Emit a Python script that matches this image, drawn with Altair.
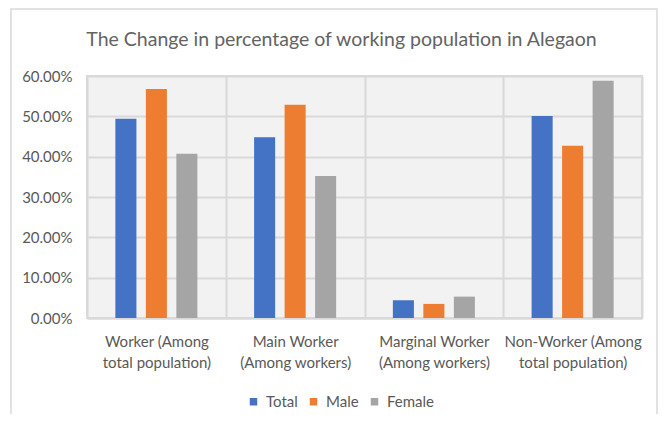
import altair as alt
import pandas as pd

categories = [
    "Worker (Among|total population)",
    "Main Worker|(Among workers)",
    "Marginal Worker|(Among workers)",
    "Non-Worker (Among|total population)",
]
series = ["Total", "Male", "Female"]
total_vals = [0.494, 0.448, 0.044, 0.501]
male_vals = [0.568, 0.529, 0.035, 0.427]
female_vals = [0.407, 0.352, 0.053, 0.588]
colors = ["#4472C4", "#ED7D31", "#A5A5A5"]
y_ticks = [0.0, 0.1, 0.2, 0.3, 0.4, 0.5, 0.6]

rows = []
for s, vals in zip(series, [total_vals, male_vals, female_vals]):
    for c, v in zip(categories, vals):
        rows.append({"category": c, "series": s, "value": v})
df = pd.DataFrame(rows)

FONT = "Lato"
TXT = "#595959"
GRID = "#d9d9d9"

bars = alt.Chart(df).mark_bar().encode(
    x=alt.X(
        "category:N",
        sort=categories,
        scale=alt.Scale(paddingInner=0, paddingOuter=0),
        axis=alt.Axis(
            title=None,
            labelAngle=0,
            labelExpr="split(datum.label, '|')",
            labelFont=FONT,
            labelFontSize=15,
            labelColor=TXT,
            labelLineHeight=21,
            labelPadding=16,
            ticks=False,
            grid=True,
            tickBand="extent",
            gridColor=GRID,
            gridWidth=2,
            domainColor=GRID,
            domainWidth=2,
        ),
    ),
    xOffset=alt.XOffset(
        "series:N",
        sort=series,
        scale=alt.Scale(paddingInner=0.31, paddingOuter=0.93),
    ),
    y=alt.Y(
        "value:Q",
        scale=alt.Scale(domain=[0, 0.6], nice=False),
        axis=alt.Axis(
            title=None,
            values=y_ticks,
            format=".2%",
            labelFont=FONT,
            labelFontSize=15,
            labelColor=TXT,
            labelPadding=15,
            ticks=False,
            domain=False,
            grid=True,
            gridColor=GRID,
            gridWidth=2,
        ),
    ),
    color=alt.Color(
        "series:N",
        sort=series,
        scale=alt.Scale(domain=series, range=colors),
        legend=alt.Legend(
            title=None,
            orient="none",
            direction="horizontal",
            legendX=159,
            legendY=318,
            symbolType="square",
            symbolSize=56,
            symbolStrokeWidth=0,
            labelFont=FONT,
            labelFontSize=15,
            labelColor=TXT,
            labelOffset=5,
            columnPadding=8,
            padding=0,
        ),
    ),
)

frame = alt.Chart(pd.DataFrame({"k": [0]})).mark_rect(
    fill=None, stroke=GRID, strokeWidth=1.5
).encode(
    x=alt.value(-76), x2=alt.value(570), y=alt.value(-67), y2=alt.value(420)
)

chart = alt.layer(frame, bars).properties(
    width=555,
    height=242,
    title=alt.TitleParams(
        "The Change in percentage of working population in Alegaon",
        font=FONT,
        fontSize=19.5,
        fontWeight="normal",
        color="#636363",
        anchor="middle",
        dx=-23,
        offset=-42,
    ),
    autosize=alt.AutoSizeParams(type="none"),
    padding={"left": 79, "top": 68, "right": 16, "bottom": 96},
).configure_view(
    fill="#f2f2f2", stroke=GRID, strokeWidth=2
)

chart.save("out.html", embed_options={"renderer": "svg", "actions": False})
